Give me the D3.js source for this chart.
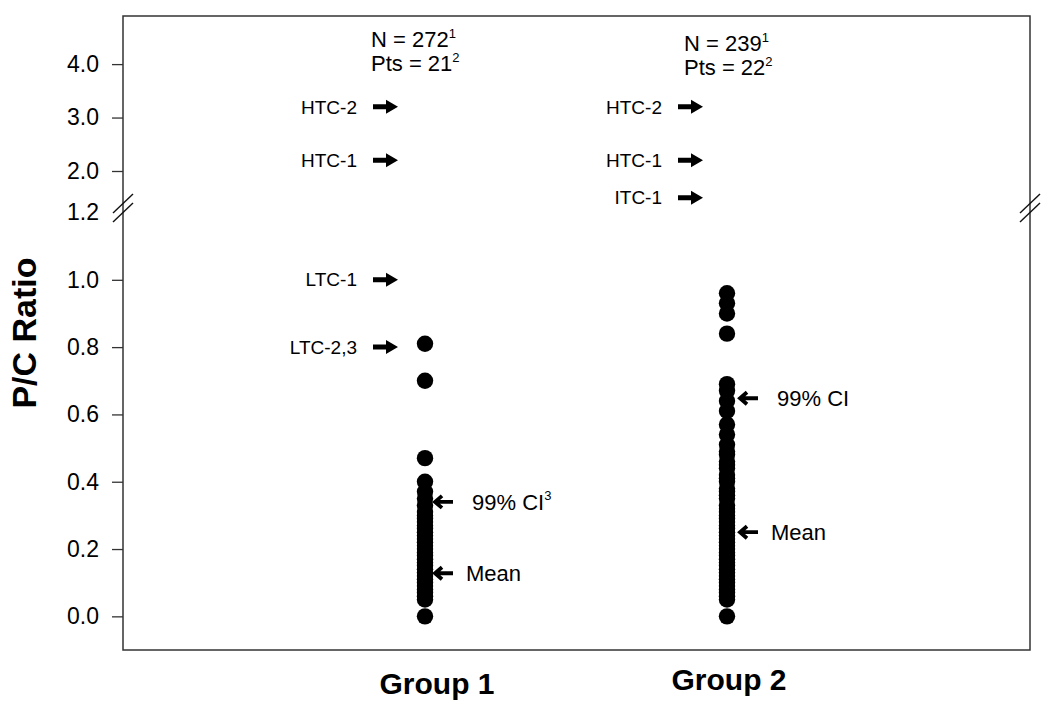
<!DOCTYPE html>
<html>
<head>
<meta charset="utf-8">
<script src="https://cdn.jsdelivr.net/npm/d3@7"></script>
<style>
  html, body { margin: 0; padding: 0; background: #fff; }
  svg { display: block; font-family: "Liberation Sans", Arial, Helvetica, sans-serif; }
</style>
</head>
<body>
<svg id="chart" width="1050" height="707"></svg>
<script>
// ---------------- data ----------------
const groups = ["Group 1", "Group 2"];
const group1Values = [0.81, 0.70, 0.47, 0.40, 0.37, 0.35, 0.33, 0.31, 0.30, 0.29, 0.28, 0.27, 0.26, 0.25,
  0.24, 0.23, 0.22, 0.21, 0.20, 0.19, 0.18, 0.17, 0.16, 0.15, 0.14, 0.13, 0.12, 0.11, 0.10, 0.09,
  0.08, 0.07, 0.06, 0.05, 0.0];
const group2Values = [0.96, 0.93, 0.90, 0.84, 0.69, 0.67, 0.64, 0.61, 0.57, 0.54, 0.51, 0.49, 0.48, 0.46,
  0.45, 0.44, 0.42, 0.41, 0.40, 0.38, 0.37, 0.36, 0.35, 0.33, 0.32, 0.31, 0.30, 0.29, 0.28, 0.27,
  0.26, 0.25, 0.24, 0.23, 0.22, 0.21, 0.20, 0.19, 0.18, 0.17, 0.16, 0.15, 0.14, 0.13, 0.12, 0.11,
  0.10, 0.09, 0.08, 0.07, 0.06, 0.05, 0.0];
const nCounts = ["272", "239"];
const ptsCounts = ["21", "22"];
const group1RefLabels = ["HTC-2", "HTC-1", "LTC-1", "LTC-2,3"];
const group1RefValues = [3.2, 2.2, 1.0, 0.8];
const group2RefLabels = ["HTC-2", "HTC-1", "ITC-1"];
const group2RefValues = [3.2, 2.2, 1.5];
const ciValues = [0.34, 0.648];
const ciLabels = ["99% CI", "99% CI"];
const ciSup = ["3", ""];
const meanValues = [0.128, 0.25];
const lowTicks = [0.0, 0.2, 0.4, 0.6, 0.8, 1.0, 1.2];
const highTicks = [2.0, 3.0, 4.0];
const yTitle = "P/C Ratio";

// ---------------- layout ----------------
const svg = d3.select("#chart");
const plotL = 123, plotR = 1030, plotT = 16, plotB = 650, breakY = 208;
const font = "'Liberation Sans', Arial, sans-serif";

const x = d3.scalePoint().domain(groups).range([425, 727]);
const yLow = d3.scaleLinear().domain([-0.1, 1.2]).range([plotB, 212.5]);
const yHigh = d3.scaleLinear().domain([2.0, 4.9]).range([171, plotT]);
const y = v => (v > 1.25 ? yHigh(v) : yLow(v));

// frame
svg.append("rect")
  .attr("x", plotL).attr("y", plotT)
  .attr("width", plotR - plotL).attr("height", plotB - plotT)
  .attr("fill", "none").attr("stroke", "#333").attr("stroke-width", 1.5);

// axes
const fmt = d3.format(".1f");
function styleAxis(g) {
  g.select(".domain").remove();
  g.selectAll(".tick line").attr("stroke", "#333").attr("stroke-width", 1.3);
  g.selectAll(".tick text").attr("font-size", 23).attr("font-family", font).attr("fill", "#000");
}
const gLow = svg.append("g").attr("transform", `translate(${plotL},0)`)
  .call(d3.axisLeft(yLow).tickValues(lowTicks).tickFormat(fmt).tickSize(11).tickPadding(13));
styleAxis(gLow);
gLow.selectAll(".tick").filter(d => d === 1.2).select("line").remove();

const gHigh = svg.append("g").attr("transform", `translate(${plotL},0)`)
  .call(d3.axisLeft(yHigh).tickValues(highTicks).tickFormat(fmt).tickSize(11).tickPadding(13));
styleAxis(gHigh);

// break marks
[plotL, plotR].forEach(bx => {
  [0, 9].forEach(off => {
    svg.append("line")
      .attr("x1", bx - 10).attr("y1", breakY + 5 + off)
      .attr("x2", bx + 10).attr("y2", breakY - 14 + off)
      .attr("stroke", "#111").attr("stroke-width", 1.4);
  });
});

// y title
svg.append("text")
  .attr("transform", `translate(36,333) rotate(-90)`)
  .attr("text-anchor", "middle")
  .attr("font-size", 34).attr("font-weight", "bold").attr("font-family", font)
  .text(yTitle);

// group labels
const groupLabelDx = [12, 2];
const groupLabelY = [694, 690];
groups.forEach((g, i) => {
  svg.append("text")
    .attr("x", x(g) + groupLabelDx[i]).attr("y", groupLabelY[i])
    .attr("text-anchor", "middle")
    .attr("font-size", 30).attr("font-weight", "bold").attr("font-family", font)
    .text(g);
});

// dots
const allValues = [group1Values, group2Values];
groups.forEach((g, i) => {
  svg.append("g").selectAll("circle")
    .data(allValues[i])
    .join("circle")
    .attr("cx", x(g)).attr("cy", d => y(d)).attr("r", 8.2)
    .attr("fill", "#000");
});

// N / Pts header text
const headerDx = [-54, -43];
const headerDy = [0, 4];
groups.forEach((g, i) => {
  const t1 = svg.append("text")
    .attr("x", x(g) + headerDx[i]).attr("y", 47 + headerDy[i])
    .attr("font-size", 22).attr("font-family", font);
  t1.append("tspan").text("N = " + nCounts[i]);
  t1.append("tspan").attr("font-size", 13).attr("dy", -9).text("1");
  const t2 = svg.append("text")
    .attr("x", x(g) + headerDx[i]).attr("y", 71 + headerDy[i])
    .attr("font-size", 22).attr("font-family", font);
  t2.append("tspan").text("Pts = " + ptsCounts[i]);
  t2.append("tspan").attr("font-size", 13).attr("dy", -9).text("2");
});

// right-pointing reference arrows
function rightArrow(tipX, cy) {
  const p = d3.path();
  p.moveTo(tipX - 25, cy - 2.5);
  p.lineTo(tipX - 12, cy - 2.5);
  p.lineTo(tipX - 12, cy - 7);
  p.lineTo(tipX, cy);
  p.lineTo(tipX - 12, cy + 7);
  p.lineTo(tipX - 12, cy + 2.5);
  p.lineTo(tipX - 25, cy + 2.5);
  p.closePath();
  svg.append("path").attr("d", p.toString()).attr("fill", "#000");
}
const refSets = [[group1RefLabels, group1RefValues], [group2RefLabels, group2RefValues]];
const refTipDx = [-27, -24];
groups.forEach((g, i) => {
  const [labels, vals] = refSets[i];
  labels.forEach((lab, j) => {
    const tip = x(g) + refTipDx[i];
    rightArrow(tip, y(vals[j]));
    svg.append("text")
      .attr("x", tip - 41).attr("y", y(vals[j]))
      .attr("dy", "0.35em")
      .attr("text-anchor", "end")
      .attr("font-size", 19).attr("font-family", font)
      .text(lab);
  });
});

// left-pointing arrows (CI, mean)
function leftArrow(tipX, cy) {
  const p = d3.path();
  p.moveTo(tipX + 20, cy);
  p.lineTo(tipX + 2, cy);
  p.moveTo(tipX + 9, cy - 6);
  p.lineTo(tipX + 2, cy);
  p.lineTo(tipX + 9, cy + 6);
  svg.append("path").attr("d", p.toString())
    .attr("fill", "none").attr("stroke", "#000").attr("stroke-width", 3.8)
    .attr("stroke-linejoin", "miter").attr("stroke-linecap", "butt");
}
const annTipDx = [8, 11];
groups.forEach((g, i) => {
  const tip = x(g) + annTipDx[i];
  leftArrow(tip, y(ciValues[i]));
  const t = svg.append("text")
    .attr("x", tip + 39).attr("y", y(ciValues[i]))
    .attr("dy", "0.35em")
    .attr("font-size", 22).attr("font-family", font);
  t.append("tspan").text(ciLabels[i]);
  if (ciSup[i]) t.append("tspan").attr("font-size", 13).attr("dy", -10).text(ciSup[i]);
  leftArrow(tip, y(meanValues[i]));
  svg.append("text")
    .attr("x", tip + 33).attr("y", y(meanValues[i]))
    .attr("dy", "0.35em")
    .attr("font-size", 22).attr("font-family", font)
    .text("Mean");
});
</script>
</body>
</html>
